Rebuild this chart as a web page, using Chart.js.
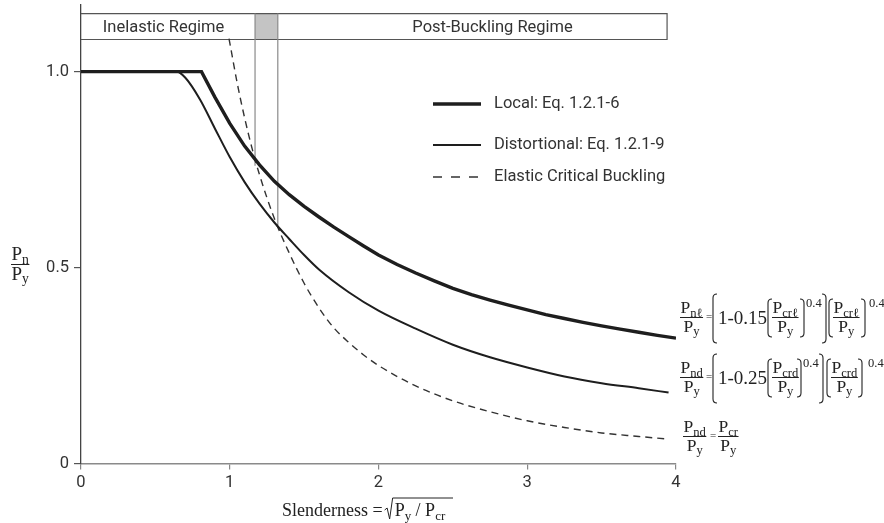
<!DOCTYPE html>
<html>
<head>
<meta charset="utf-8">
<script src="https://cdn.jsdelivr.net/npm/chart.js@4.4.1/dist/chart.umd.min.js"></script>
<style>
  html, body { margin: 0; padding: 0; background: #fff; }
</style>
</head>
<body>
<canvas id="chart" width="884" height="523"></canvas>
<script>
/* ── Data ── */
var localX = [0, 0.81, 0.9, 1.0, 1.1, 1.2, 1.3, 1.4, 1.5, 1.6, 1.7, 1.8, 1.9, 2.0, 2.125, 2.25, 2.375, 2.5, 2.625, 2.75, 2.875, 3.0, 3.125, 3.25, 3.375, 3.5, 3.625, 3.75, 3.875, 4.0];
var localY = [1.0, 1.0, 0.935, 0.868, 0.810, 0.762, 0.720, 0.686, 0.656, 0.629, 0.603, 0.579, 0.555, 0.532, 0.508, 0.486, 0.466, 0.447, 0.431, 0.417, 0.404, 0.392, 0.380, 0.370, 0.360, 0.351, 0.343, 0.335, 0.327, 0.320];

var distX = [0, 0.64, 0.7, 0.8, 0.9, 1.0, 1.1, 1.2, 1.3, 1.4, 1.5, 1.6, 1.8, 2.0, 2.25, 2.5, 2.75, 3.0, 3.25, 3.5, 3.75, 3.95];
var distY = [1.0, 1.0, 0.985, 0.929, 0.855, 0.782, 0.718, 0.663, 0.615, 0.573, 0.532, 0.495, 0.437, 0.390, 0.344, 0.303, 0.271, 0.245, 0.222, 0.205, 0.192, 0.181];

var elasticX = [0.995, 1.0, 1.05, 1.1, 1.15, 1.2, 1.3, 1.4, 1.5, 1.6, 1.7, 1.8, 1.9, 2.0, 2.25, 2.5, 2.75, 3.0, 3.25, 3.5, 3.75, 3.95];
var elasticY = [1.084, 1.074, 0.971, 0.882, 0.804, 0.737, 0.625, 0.537, 0.460, 0.397, 0.346, 0.309, 0.277, 0.250, 0.198, 0.160, 0.132, 0.109, 0.092, 0.078, 0.069, 0.062];

var seriesLabels = ['Local: Eq. 1.2.1-6', 'Distortional: Eq. 1.2.1-9', 'Elastic Critical Buckling'];

var xTicks = [0, 1, 2, 3, 4];
var yTicks = [0, 0.5, 1.0];

/* regime strip across the top */
var regimeEdges  = [0, 1.17, 1.323, 3.94];
var regimeNames  = ['Inelastic Regime', 'Post-Buckling Regime'];
var regimeLabelX = [0.555, 2.767];
var regimeBand   = [1.082, 1.148];

/* vertical guides below the grey cell */
var guideX   = [1.17, 1.323];
var guideLow = [0.76, 0.605];

var SANS  = 'Roboto, "Open Sans", sans-serif';
var SERIF = '"Liberation Serif", "DejaVu Serif", serif';
var INK   = '#1e1e1e';

function pts( xs, ys ) {
    return xs.map( function ( x, i ) { return { x: x, y: ys[ i ] }; } );
}

/* ── Math typesetting helpers ── */
function putText( ctx, s, x, base, size ) {
    ctx.font = size + 'px ' + SERIF;
    ctx.textAlign = 'left';
    ctx.textBaseline = 'alphabetic';
    ctx.fillText( s, x, base );
    return ctx.measureText( s ).width;
}
function widthPSub( ctx, sub, size ) {
    ctx.font = size + 'px ' + SERIF;
    var w = ctx.measureText( 'P' ).width;
    ctx.font = ( size * 0.72 ) + 'px ' + SERIF;
    return w + ctx.measureText( sub ).width;
}
function putPSub( ctx, sub, x, base, size ) {
    var w = putText( ctx, 'P', x, base, size );
    return w + putText( ctx, sub, x + w, base + size * 0.2, size * 0.72 );
}
function putFrac( ctx, num, den, x, barY, size ) {
    var wn = widthPSub( ctx, num, size ), wd = widthPSub( ctx, den, size );
    var w = Math.max( wn, wd ) + 1;
    putPSub( ctx, num, x + ( w - wn ) / 2, barY - 4, size );
    putPSub( ctx, den, x + ( w - wd ) / 2, barY + size * 0.66 + 3, size );
    ctx.lineWidth = 1;
    ctx.beginPath();
    ctx.moveTo( x, barY + 0.5 );
    ctx.lineTo( x + w, barY + 0.5 );
    ctx.stroke();
    return w;
}
function putBracket( ctx, x, top, bottom, dir ) {
    var r = 4;
    ctx.lineWidth = 1.1;
    ctx.beginPath();
    ctx.moveTo( x + dir * r, top );
    ctx.quadraticCurveTo( x, top, x, top + r );
    ctx.lineTo( x, bottom - r );
    ctx.quadraticCurveTo( x, bottom, x + dir * r, bottom );
    ctx.stroke();
}

function drawLongFormula( ctx, b, numSub, subCr, coef, a ) {
    var s = 17.5;
    putFrac( ctx, numSub, 'y', a[ 0 ], b, s );
    putText( ctx, '=', a[ 1 ], b + 3, 11 );
    putBracket( ctx, a[ 2 ], b - 23, b + 26, 1 );
    putText( ctx, coef, a[ 3 ], b + 6.5, 19 );
    putBracket( ctx, a[ 4 ], b - 18, b + 20, 1 );
    putFrac( ctx, subCr, 'y', a[ 5 ], b, s );
    putBracket( ctx, a[ 6 ], b - 18, b + 20, -1 );
    putText( ctx, '0.4', a[ 7 ], b - 10, 12.5 );
    putBracket( ctx, a[ 8 ], b - 23, b + 26, -1 );
    putBracket( ctx, a[ 9 ], b - 18, b + 20, 1 );
    putFrac( ctx, subCr, 'y', a[ 10 ], b, s );
    putBracket( ctx, a[ 11 ], b - 18, b + 20, -1 );
    putText( ctx, '0.4', a[ 12 ], b - 10, 12.5 );
}

/* ── Overlay plugin: regime strip, legend, equations, axis titles ── */
var overlay = {
    id: 'overlay',
    beforeDatasetsDraw: function ( chart ) {
        var ctx = chart.ctx, sx = chart.scales.x, sy = chart.scales.y;
        var top = sy.getPixelForValue( regimeBand[ 1 ] ), bot = sy.getPixelForValue( regimeBand[ 0 ] );
        var l = sx.getPixelForValue( regimeEdges[ 0 ] ), r = sx.getPixelForValue( regimeEdges[ 3 ] );
        var g1 = sx.getPixelForValue( regimeEdges[ 1 ] ), g2 = sx.getPixelForValue( regimeEdges[ 2 ] );
        ctx.save();
        ctx.fillStyle = '#c4c4c4';
        ctx.fillRect( g1, top, g2 - g1, bot - top );
        ctx.strokeStyle = '#555';
        ctx.lineWidth = 1.2;
        ctx.beginPath();
        ctx.moveTo( l, top ); ctx.lineTo( r, top ); ctx.lineTo( r, bot ); ctx.lineTo( l, bot );
        ctx.stroke();
        ctx.fillStyle = '#333';
        ctx.font = '16.5px ' + SANS;
        ctx.textAlign = 'center';
        ctx.textBaseline = 'middle';
        regimeNames.forEach( function ( n, i ) {
            ctx.fillText( n, sx.getPixelForValue( regimeLabelX[ i ] ), ( top + bot ) / 2 + 1 );
        } );
        ctx.restore();
    },
    afterDraw: function ( chart ) {
        var ctx = chart.ctx;
        ctx.save();

        /* legend */
        var rows = [ 104, 145, 177 ], k = 0;
        chart.data.datasets.forEach( function ( ds ) {
            if ( ! ds.inLegend ) return;
            var yy = rows[ k++ ];
            ctx.strokeStyle = ds.borderColor;
            ctx.lineWidth = ds.borderWidth;
            ctx.setLineDash( ds.legendDash || [] );
            ctx.beginPath();
            ctx.moveTo( 433, yy ); ctx.lineTo( 481, yy );
            ctx.stroke();
            ctx.setLineDash( [] );
            ctx.fillStyle = '#333';
            ctx.font = '16.5px ' + SANS;
            ctx.textAlign = 'left';
            ctx.textBaseline = 'middle';
            ctx.fillText( ds.label, 494, yy );
        } );

        ctx.fillStyle = '#222';
        ctx.strokeStyle = '#222';

        /* right-hand equations */
        drawLongFormula( ctx, 317, 'n\u2113', 'cr\u2113', '1-0.15',
            [ 680, 706, 713, 718, 768, 772, 804, 806, 826, 829, 833, 865, 869 ] );
        drawLongFormula( ctx, 377, 'nd', 'crd', '1-0.25',
            [ 680, 706, 713, 718, 768, 772, 801, 803, 823, 827, 831, 862, 868 ] );
        putFrac( ctx, 'nd', 'y', 683, 436, 17.5 );
        putText( ctx, '=', 710, 439, 11 );
        putFrac( ctx, 'cr', 'y', 718, 436, 17.5 );

        /* y-axis title */
        putFrac( ctx, 'n', 'y', 11, 264, 19 );

        /* x-axis title */
        var bx = 282, by = 516;
        var w = putText( ctx, 'Slenderness =', bx, by, 18 );
        var rx = bx + w + 2;
        ctx.lineWidth = 1;
        ctx.beginPath();
        ctx.moveTo( rx, by - 6 ); ctx.lineTo( rx + 2.5, by - 8 );
        ctx.lineTo( rx + 5, by + 3 ); ctx.lineTo( rx + 8, by - 18 );
        ctx.lineTo( 453, by - 18 );
        ctx.stroke();
        var tx = rx + 10;
        tx += putPSub( ctx, 'y', tx, by, 18 );
        tx += putText( ctx, ' / ', tx, by, 18 );
        putPSub( ctx, 'cr', tx, by, 18 );

        ctx.restore();
    }
};

new Chart( document.getElementById( 'chart' ), {
    type: 'line',
    data: {
        datasets: [
            {
                label: seriesLabels[ 0 ], data: pts( localX, localY ),
                borderColor: INK, borderWidth: 3.4, tension: 0, inLegend: true
            },
            {
                label: seriesLabels[ 1 ], data: pts( distX, distY ),
                borderColor: INK, borderWidth: 2, cubicInterpolationMode: 'monotone', inLegend: true
            },
            {
                label: seriesLabels[ 2 ], data: pts( elasticX, elasticY ),
                borderColor: '#333', borderWidth: 1.4, borderDash: [ 7, 5 ], legendDash: [ 9, 9 ],
                cubicInterpolationMode: 'monotone', inLegend: true
            },
            {
                label: 'guide-left', data: [ { x: guideX[ 0 ], y: guideLow[ 0 ] }, { x: guideX[ 0 ], y: regimeBand[ 1 ] } ],
                borderColor: '#8a8a8a', borderWidth: 1.2
            },
            {
                label: 'guide-right', data: [ { x: guideX[ 1 ], y: guideLow[ 1 ] }, { x: guideX[ 1 ], y: regimeBand[ 1 ] } ],
                borderColor: '#8a8a8a', borderWidth: 1.2
            }
        ]
    },
    options: {
        responsive: false,
        animation: false,
        layout: { padding: { top: 5, right: 208, left: 0, bottom: 0 } },
        elements: { point: { radius: 0 }, line: { fill: false, borderCapStyle: 'butt' } },
        plugins: { legend: { display: false }, tooltip: { enabled: false } },
        scales: {
            x: {
                type: 'linear', min: 0, max: 4,
                afterBuildTicks: function ( s ) { s.ticks = xTicks.map( function ( v ) { return { value: v }; } ); },
                ticks: { color: '#333', font: { family: SANS, size: 16.5 }, padding: 3, maxRotation: 0 },
                grid: { drawOnChartArea: false, drawTicks: true, tickLength: 6, color: '#888', lineWidth: 1.2 },
                border: { display: true, color: '#8a8a8a', width: 1.6 },
                afterFit: function ( s ) { s.height = 59.5; s.paddingLeft = 0; s.paddingRight = 0; }
            },
            y: {
                type: 'linear', min: 0, max: 1.17,
                afterBuildTicks: function ( s ) { s.ticks = yTicks.map( function ( v ) { return { value: v }; } ); },
                ticks: {
                    color: '#333', font: { family: SANS, size: 16.5 }, padding: 5,
                    callback: function ( v ) { return v === 0 ? '0' : v.toFixed( 1 ); }
                },
                grid: { drawOnChartArea: false, drawTicks: true, tickLength: 7, color: '#555', lineWidth: 1.2 },
                border: { display: true, color: '#444', width: 1.3 },
                afterFit: function ( s ) { s.width = 81; s.paddingTop = 0; s.paddingBottom = 0; }
            }
        }
    },
    plugins: [ overlay ]
} );
</script>
</body>
</html>
